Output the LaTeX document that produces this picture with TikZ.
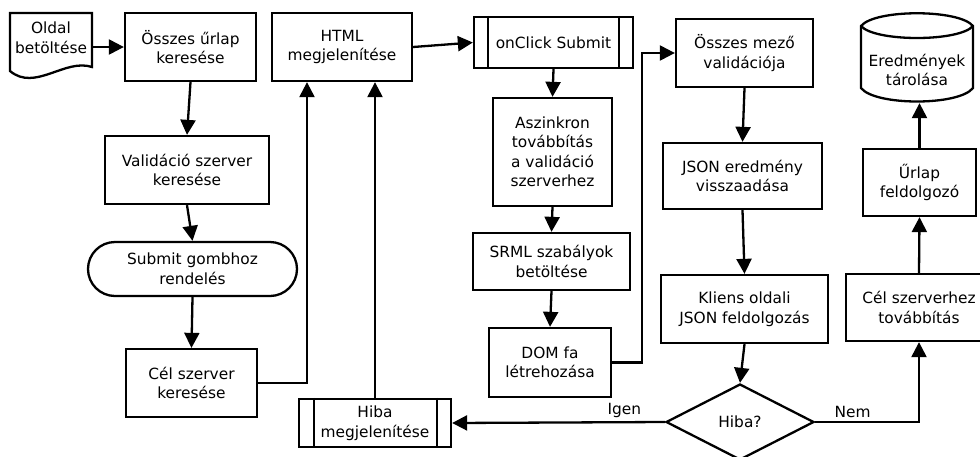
\documentclass[tikz,border=0pt]{standalone}
\usepackage{fontspec}
\setmainfont{DejaVu Sans}
\usetikzlibrary{arrows.meta,shapes.geometric}
\begin{document}
\begin{tikzpicture}[x=1pt,y=-1pt,line width=2.3pt,
  font=\fontsize{15.4}{19.5}\selectfont,
  box/.style={draw,rectangle,inner sep=0pt,align=center},
  arr/.style={-{Triangle[length=15pt,width=15pt]}},
  lbl/.style={inner sep=3pt}]
\useasboundingbox (0,0) rectangle (980,456);

% ---- left column ----
\node[inner sep=0pt,minimum width=82pt,minimum height=50pt,align=center] (oldal) at (51,38) {Oldal\\betöltése};
\draw (10,13) -- (92,13) -- (92,67) .. controls (65,58) and (35,92) .. (10,71) -- cycle;

\node[box,minimum width=131pt,minimum height=68pt] (ossz) at (190.5,47) {Összes űrlap\\keresése};
\node[box,minimum width=164pt,minimum height=68pt] (valid) at (187,170) {Validáció szerver\\keresése};
\node[box,rounded corners=27pt,minimum width=209pt,minimum height=54pt] (submit) at (192.5,269) {Submit gombhoz\\rendelés};
\node[box,minimum width=131pt,minimum height=68pt] (celsz) at (191.5,383) {Cél szerver\\keresése};

% ---- middle ----
\node[box,minimum width=140pt,minimum height=68pt] (html) at (342,47) {HTML\\megjelenítése};
\node[box,minimum width=152pt,minimum height=48pt] (hibam) at (375,423) {Hiba\\megjelenítése};
\draw ([xshift=16pt]hibam.north west) -- ([xshift=16pt]hibam.south west);
\draw ([xshift=-15pt]hibam.north east) -- ([xshift=-15pt]hibam.south east);

\node[box,minimum width=159pt,minimum height=51pt] (onclick) at (553.5,42.5) {onClick Submit};
\draw ([xshift=15pt]onclick.north west) -- ([xshift=15pt]onclick.south west);
\draw ([xshift=-15pt]onclick.north east) -- ([xshift=-15pt]onclick.south east);

\node[box,minimum width=119pt,minimum height=108pt] (aszink) at (552.5,152) {Aszinkron\\továbbítás\\a validáció\\szerverhez};
\node[box,minimum width=157pt,minimum height=57pt] (srml) at (551.5,261.5) {SRML szabályok\\betöltése};
\node[box,minimum width=122pt,minimum height=69pt] (dom) at (550,362.5) {DOM fa\\létrehozása};

% ---- right part ----
\node[box,minimum width=137pt,minimum height=68pt] (mezo) at (744.5,53) {Összes mező\\validációja};
\node[box,minimum width=159pt,minimum height=66pt] (jsoner) at (742.5,176) {JSON eredmény\\visszaadása};
\node[box,minimum width=167pt,minimum height=68pt] (kliens) at (744.5,309) {Kliens oldali\\JSON feldolgozás};
\node[draw,diamond,aspect=2,inner sep=0pt,minimum width=148pt,minimum height=76pt] (hiba) at (740,422) {Hiba?};

\node[box,minimum width=146pt,minimum height=67pt] (celszh) at (919,307.5) {Cél szerverhez\\továbbítás};
\node[box,minimum width=113pt,minimum height=67pt] (urlap) at (919.5,182.5) {Űrlap\\feldolgozó};

% storage drum
\node[inner sep=0pt,minimum width=112pt,minimum height=87pt] (store) at (917,58.5) {};
\node[align=center,inner sep=0pt] (storetxt) at (917,70) {Eredmények\\tárolása};
\draw (861,26) .. controls (875,9) and (959,9) .. (973,26)
      -- (973,88) .. controls (959,106) and (875,106) .. (861,88) -- cycle;
\draw (861,26) .. controls (875,42) and (959,42) .. (973,26);

% ---- connectors ----
\draw[arr] (oldal.east |- ossz.west) -- (ossz.west);
\draw[arr] (ossz.south) -- (valid.north);
\draw[arr] (valid.south) -- (submit.north);
\draw[arr] (submit.south) -- (celsz.north);
\draw[arr] (celsz.east) -| ([xshift=-35pt]html.south);
\draw[arr] (hibam.north) -- (hibam.north |- html.south);
\draw[arr] (html.east) -- (onclick.west);
\draw[arr] (onclick.south) -- (aszink.north);
\draw[arr] (aszink.south) -- (srml.north);
\draw[arr] (srml.south) -- (dom.north);
\draw[arr] (dom.east) -- ++(30,0) |- (mezo.west);
\draw[arr] (mezo.south) -- (jsoner.north);
\draw[arr] (jsoner.south) -- (kliens.north);
\draw[arr] (kliens.south) -- (hiba.north);
\draw[arr] (hiba.west) -- node[pos=0.19,above,lbl] {Igen} (hibam.east);
\draw[arr] (hiba.east) -| node[pos=0.18,above,lbl] {Nem} (celszh.south);
\draw[arr] (celszh.north) -- (urlap.south);
\draw[arr] (urlap.north) -- (urlap.north |- store.south);
\end{tikzpicture}
\end{document}
